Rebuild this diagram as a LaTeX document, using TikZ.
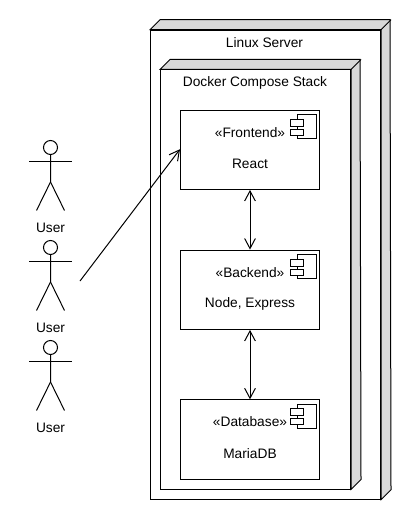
\documentclass[tikz,border=0pt]{standalone}
\usepackage{fontspec}
\setmainfont{Liberation Sans}
\usetikzlibrary{arrows.meta,calc}
\definecolor{sidegray}{HTML}{D9D9D9}
\tikzset{
	ln/.style={line width=0.75pt,black},
	depnode/.style={ln,draw,fill=white,rectangle,inner sep=0pt},
	comp/.style={ln,draw,fill=white,rectangle,inner sep=0pt,minimum width=104.25pt,minimum height=59.5pt},
	tab/.style={ln,draw,fill=white},
	txt/.style={font=\fontsize{10.3pt}{12pt}\selectfont,inner sep=0pt,text=black},
	flow/.style={ln,-{Straight Barb[length=7.5pt,width=8pt,line width=0.75pt]}},
	flowboth/.style={ln,{Straight Barb[length=7.5pt,width=8pt,line width=0.75pt]}-{Straight Barb[length=7.5pt,width=8pt,line width=0.75pt]}},
}
\begin{document}
\begin{tikzpicture}[x=0.75pt,y=-0.75pt]
	\useasboundingbox (0,0) rectangle (410,520);

	% deployment boxes
	\node[depnode,minimum width=172.5pt,minimum height=351.75pt] (server) at (265.5,264.75) {};
	\draw[ln,fill=sidegray] (server.north west) -- ++(10,-10) -- ++(230,0) -- ($(server.south east)+(10,-10)$) -- (server.south east) -- (server.north east) -- cycle;
	\draw[ln] (server.north east) -- ++(10,-10);
	\node[txt] (serverlabel) at (264.5,43) {Linux Server};

	\node[depnode,minimum width=142.5pt,minimum height=314.25pt] (stack) at (255.5,279.5) {};
	\draw[ln,fill=sidegray] (stack.north west) -- ++(10,-10) -- ++(190,0) -- ($(stack.south east)+(10,-10)$) -- (stack.south east) -- (stack.north east) -- cycle;
	\draw[ln] (stack.north east) -- ++(10,-10);
	\node[txt] (stacklabel) at (255,83) {Docker Compose Stack};

	% components
	\node[comp] (frontend) at (250,149.75) {};
	\node[comp] (backend) at (250,289.75) {};
	\node[comp] (database) at (250,439.5) {};
	\foreach \c/\s/\n in {frontend/Frontend/React,backend/Backend/{Node, Express},database/Database/MariaDB}{
		\begin{scope}[shift={(\c.north east)}]
			\draw[ln] (-23,5) rectangle (-4,29);
			\draw[tab] (-29.5,9.5) rectangle (-17,16.5);
			\draw[tab] (-29.5,19.5) rectangle (-17,25.5);
		\end{scope}
		\node[txt] (\c title) at ([yshift=-16.9pt]\c.north) {«\s»};
		\node[txt] (\c name) at ([yshift=-40.5pt]\c.north) {\n};
	}

	% actors
	\foreach \u/\y in {usera/0,userb/100,userc/200}{
		\begin{scope}[yshift=-\y*0.75pt]
			\node[ln,draw,circle,inner sep=0pt,minimum size=10.5pt] (\u head) at (50.5,147.5) {};
			\draw[ln] (\u head.south) -- (50.5,182) -- (36.5,210.5);
			\draw[ln] (50.5,182) -- (64.5,210.5);
			\draw[ln] (29,161.5) -- (72,161.5);
			\node[txt] (\u) at (50.5,228) {User};
		\end{scope}
	}

	% connectors
	\coordinate (userout) at (80,281);
	\draw[flow] (userout) -- ([yshift=0.4pt]frontend.west);
	\draw[flowboth] (frontend) -- (backend);
	\draw[flowboth] (backend) -- (database);
\end{tikzpicture}
\end{document}
